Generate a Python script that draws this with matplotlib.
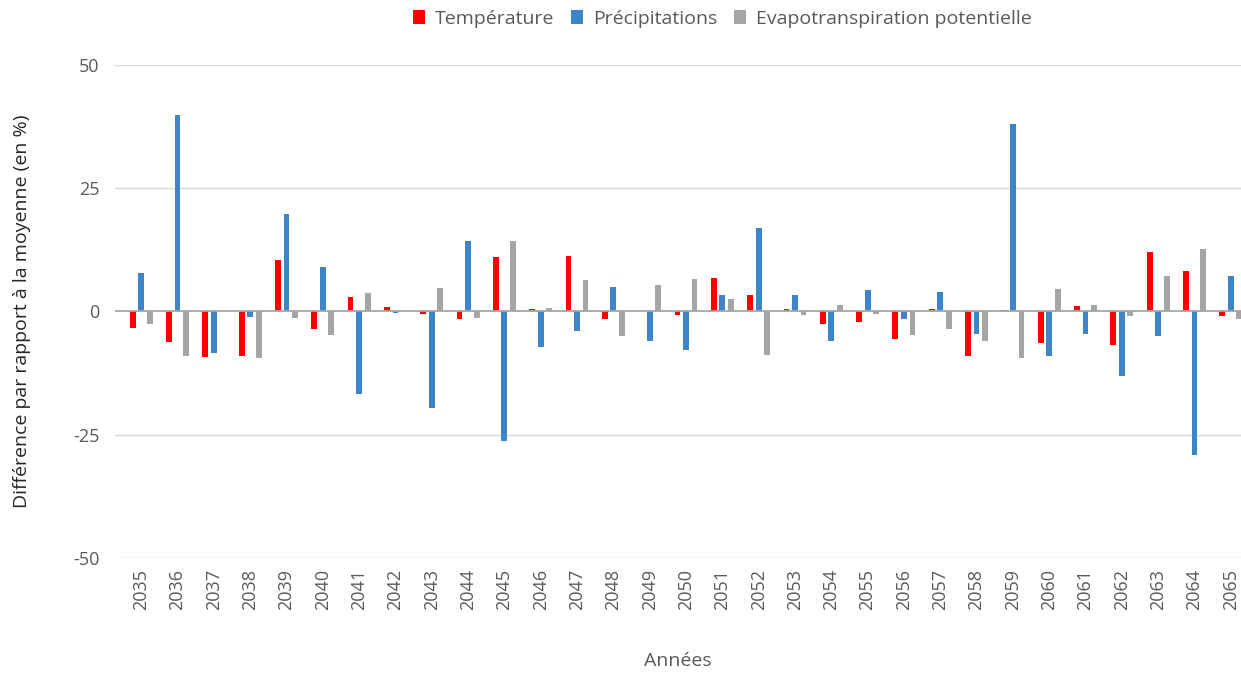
import numpy as np
import matplotlib
matplotlib.use("Agg")
from matplotlib import pyplot as plt
import matplotlib.patches as patches

# values (difference vs mean, in %)
years = [str(y) for y in range(2035, 2066)]
temperature = [-3.4, -6.1, -9.2, -9.0, 10.5, -3.6, 3.0, 0.9, -0.6, -1.5,
               11.0, 0.6, 11.3, -1.6, 0.0, -0.7, 6.7, 3.3, 0.5, -2.6,
               -2.2, -5.5, 0.6, -9.0, 0.4, -6.3, 1.1, -6.7, 12.0, 8.2, -0.9]
precipitations = [7.8, 39.8, -8.5, -1.1, 19.7, 9.0, -16.7, -0.3, -19.5, 14.4,
                  -26.2, -7.3, -4.0, 5.0, -6.0, -7.8, 3.3, 17.0, 3.3, -5.9,
                  4.4, -1.6, 4.0, -4.5, 38.1, -9.0, -4.5, -13.1, -5.0, -29.1, 7.1]
etp = [-2.5, -9.0, 0.0, -9.5, -1.4, -4.7, 3.8, 0.2, 4.8, -1.3,
       14.4, 0.7, 6.3, -5.0, 5.3, 6.5, 2.6, -8.9, -0.7, 1.3,
       -0.5, -4.8, -3.6, -6.0, -9.5, 4.6, 1.3, -0.9, 7.3, 12.7, -1.6]
series_names = ["Température", "Précipitations", "Evapotranspiration potentielle"]
y_ticks = [-50, -25, 0, 25, 50]

colors = ["#ff0000", "#3d85c6", "#a5a5a5"]
text_color = "#595959"

plt.rcParams["font.family"] = ["Open Sans", "DejaVu Sans"]

fig = plt.figure(figsize=(12.41, 6.73), dpi=100)
ax = fig.add_axes([0.0927, 0.1709, 0.9073, 0.7325])

x = np.arange(len(years))
offset = 0.235
width = 0.16
for i, (vals, col) in enumerate(zip([temperature, precipitations, etp], colors)):
    ax.bar(x + (i - 1) * offset, vals, width=width, color=col, zorder=3)

# grid
for t in y_ticks:
    if t == 0:
        ax.axhline(0, color="#a6a6a6", lw=1.3, zorder=4)
    else:
        ax.axhline(t, color="#d9d9d9", lw=1.0, zorder=1)

ax.set_ylim(-50, 50)
ax.set_xlim(-0.72, 30.28)
ax.set_yticks(y_ticks)
ax.set_yticklabels([str(t) for t in y_ticks])
ax.set_xticks(x)
ax.set_xticklabels(years, rotation=90)
ax.tick_params(axis="both", length=0, labelsize=13, colors=text_color)
ax.tick_params(axis="y", pad=11)
ax.tick_params(axis="x", pad=8)
for s in ax.spines.values():
    s.set_visible(False)

ax.set_xlabel("Années", fontsize=14, color=text_color, labelpad=30)
fig.text(0.018, 0.5378, "Différence par rapport à la moyenne (en %)",
         rotation=90, ha="center", va="center", fontsize=14, color="#262626")

handles = [patches.Rectangle((0, 0), 1, 1, facecolor=c) for c in colors]
fig.legend(handles, series_names, loc="center", bbox_to_anchor=(0.582, 0.972),
           ncol=3, frameon=False, fontsize=14, handlelength=0.6, handleheight=0.7,
           handletextpad=0.5, columnspacing=0.9, labelcolor=text_color)

fig.savefig("out.png", dpi=100)
